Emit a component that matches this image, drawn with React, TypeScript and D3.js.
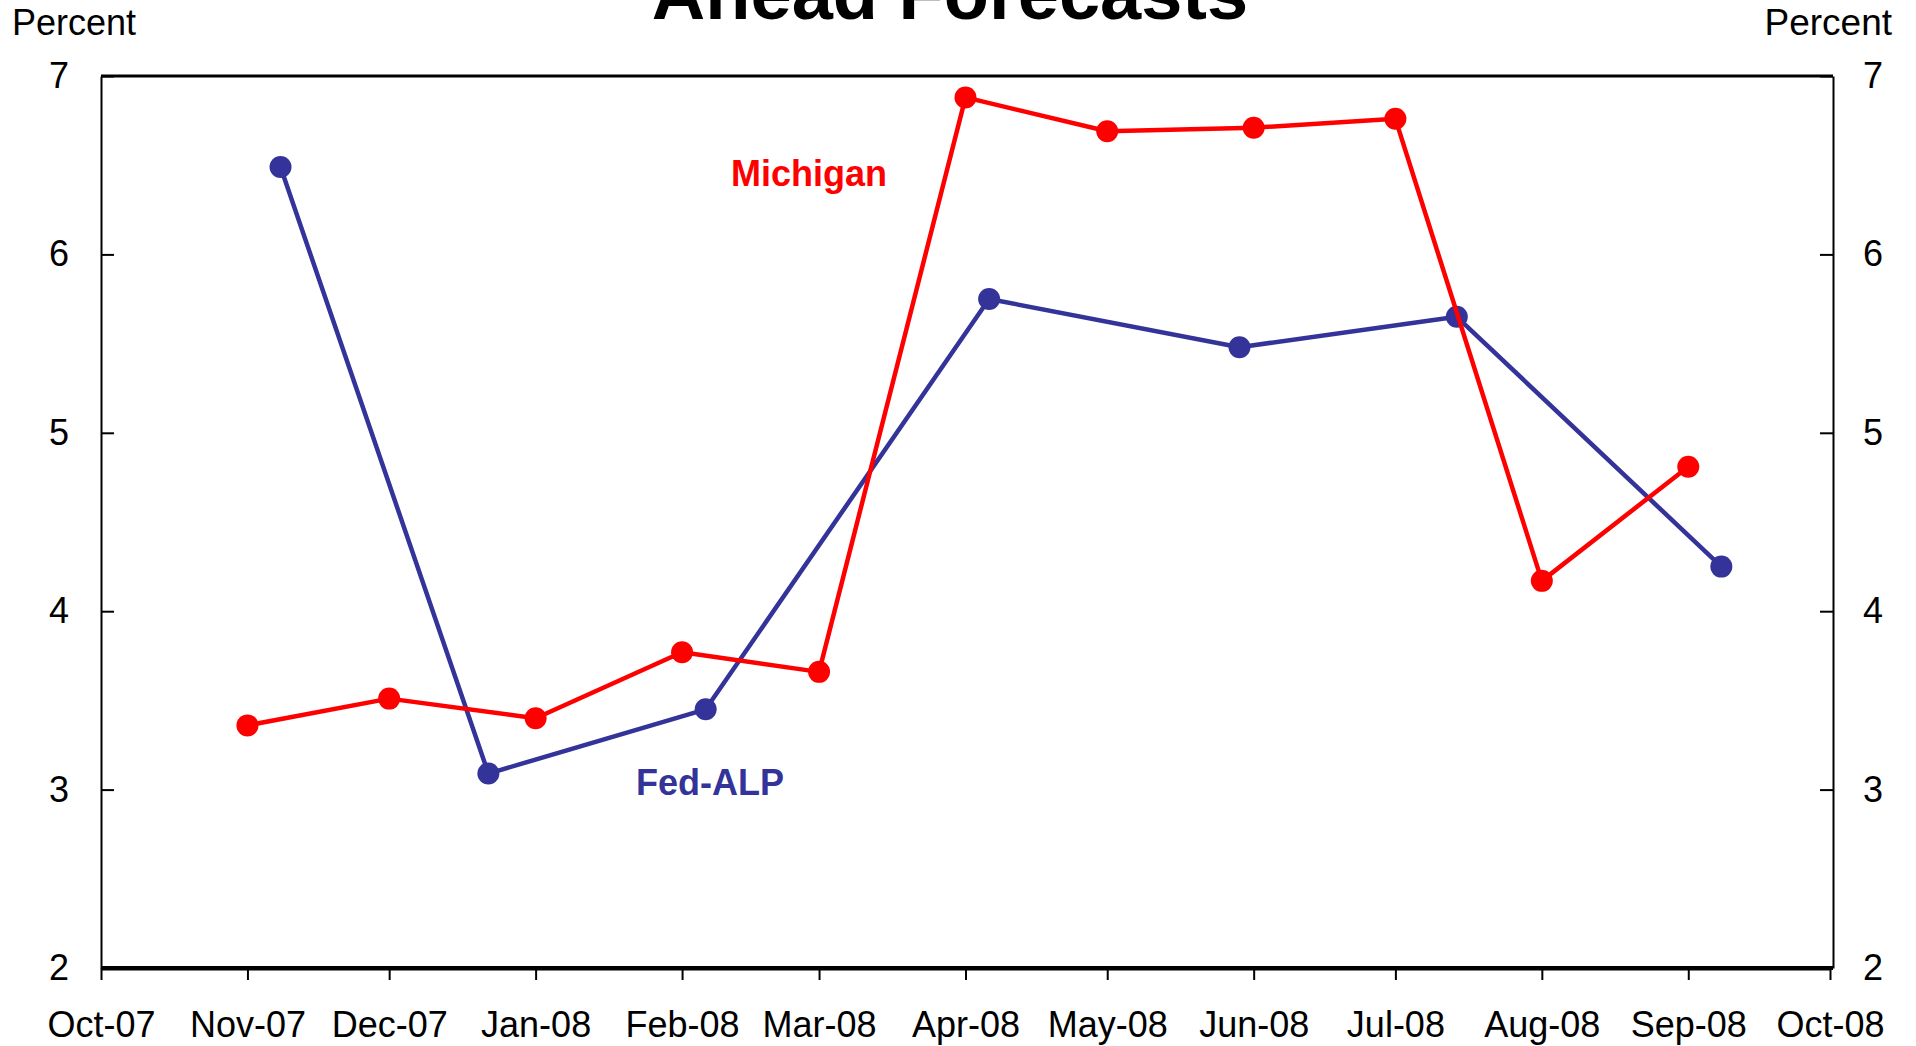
import React, { useEffect, useRef } from 'react';
import * as d3 from 'd3';

// Michigan survey: one reading per month
const michiganDates = [
  new Date(2007, 10, 1), new Date(2007, 11, 1), new Date(2008, 0, 1), new Date(2008, 1, 1),
  new Date(2008, 2, 1), new Date(2008, 3, 1), new Date(2008, 4, 1), new Date(2008, 5, 1),
  new Date(2008, 6, 1), new Date(2008, 7, 1), new Date(2008, 8, 1),
];
const michiganValues = [3.36, 3.51, 3.40, 3.77, 3.66, 6.88, 6.69, 6.71, 6.76, 4.17, 4.81];

// Fed-ALP forecasts: irregular dates
const fedDates = [
  new Date(2007, 10, 8), new Date(2007, 11, 22), new Date(2008, 1, 6), new Date(2008, 3, 6),
  new Date(2008, 4, 29), new Date(2008, 6, 14), new Date(2008, 8, 8),
];
const fedValues = [6.49, 3.09, 3.45, 5.75, 5.48, 5.65, 4.25];

const yTicks = [2, 3, 4, 5, 6, 7];
const xStart = new Date(2007, 9, 1);
const xEnd = new Date(2008, 9, 1);

const RED = '#ff0000';
const BLUE = '#333399';
const FONT = 'Arial, "Liberation Sans", sans-serif';

const App = () => {
  const svgRef = useRef<SVGSVGElement>(null);

  useEffect(() => {
    const width = 1916;
    const height = 1046;
    const svg = d3.select(svgRef.current);
    svg.selectAll('*').remove();
    svg.attr('width', width).attr('height', height);

    const left = 101, right = 1833, top = 76, bottom = 968;

    const x = d3.scaleTime().domain([xStart, xEnd]).range([left, right - 3]);
    const y = d3.scaleLinear().domain([2, 7]).range([bottom, top]);

    // title (upper line is out of frame)
    svg.append('text')
      .attr('x', 950)
      .attr('y', 19)
      .attr('text-anchor', 'middle')
      .style('font-family', FONT)
      .style('font-size', '74px')
      .style('font-weight', 'bold')
      .text('Ahead Forecasts');

    svg.append('text')
      .attr('x', 12).attr('y', 35)
      .style('font-family', FONT).style('font-size', '36px')
      .text('Percent');
    svg.append('text')
      .attr('x', 1892).attr('y', 35)
      .attr('text-anchor', 'end')
      .style('font-family', FONT).style('font-size', '37px')
      .text('Percent');

    // top border
    svg.append('line')
      .attr('x1', left).attr('x2', right)
      .attr('y1', top).attr('y2', top)
      .attr('stroke', '#000').attr('stroke-width', 3);

    const styleAxis = (g: any, domainWidth: number) => {
      g.select('.domain').attr('stroke', '#000').attr('stroke-width', domainWidth);
      g.selectAll('.tick line').attr('stroke', '#000').attr('stroke-width', 2);
      g.selectAll('.tick text')
        .attr('fill', '#000')
        .style('font-family', FONT)
        .style('font-size', '36px');
    };

    svg.append('g')
      .attr('transform', `translate(${left},0)`)
      .call(d3.axisLeft(y).tickValues(yTicks).tickSizeInner(-13).tickSizeOuter(0).tickPadding(32).tickFormat(d3.format('d')))
      .call((g: any) => styleAxis(g, 2));

    svg.append('g')
      .attr('transform', `translate(${right},0)`)
      .call(d3.axisRight(y).tickValues(yTicks).tickSizeInner(-13).tickSizeOuter(0).tickPadding(30).tickFormat(d3.format('d')))
      .call((g: any) => styleAxis(g, 2));

    svg.append('g')
      .attr('transform', `translate(0,${bottom})`)
      .call(d3.axisBottom(x).ticks(d3.timeMonth.every(1)).tickSizeInner(12).tickSizeOuter(0).tickPadding(31).tickFormat(d3.timeFormat('%b-%y') as any))
      .call((g: any) => styleAxis(g, 4));

    // extend bottom axis line to the right frame
    svg.append('line')
      .attr('x1', left).attr('x2', right)
      .attr('y1', bottom).attr('y2', bottom)
      .attr('stroke', '#000').attr('stroke-width', 4);

    const line = d3.line<[Date, number]>()
      .x(d => x(d[0]))
      .y(d => y(d[1]));

    const series = [
      { dates: fedDates, values: fedValues, color: BLUE },
      { dates: michiganDates, values: michiganValues, color: RED },
    ];

    series.forEach(s => {
      const pts: [Date, number][] = s.dates.map((d, i) => [d, s.values[i]]);
      svg.append('path')
        .datum(pts)
        .attr('d', line)
        .attr('fill', 'none')
        .attr('stroke', s.color)
        .attr('stroke-width', 4.5)
        .attr('stroke-linejoin', 'round');
      svg.append('g')
        .selectAll('circle')
        .data(pts)
        .enter().append('circle')
        .attr('cx', d => x(d[0]))
        .attr('cy', d => y(d[1]))
        .attr('r', 11)
        .attr('fill', s.color);
    });

    // series labels
    svg.append('text')
      .attr('x', 731).attr('y', 186)
      .style('font-family', FONT).style('font-size', '36px').style('font-weight', 'bold')
      .attr('fill', RED)
      .text('Michigan');
    svg.append('text')
      .attr('x', 636).attr('y', 795)
      .style('font-family', FONT).style('font-size', '36px').style('font-weight', 'bold')
      .attr('fill', BLUE)
      .text('Fed-ALP');
  }, []);

  return (
    <div style={{ position: 'absolute', left: 0, top: 0, width: 1916, height: 1046, background: '#fff' }}>
      <svg ref={svgRef} style={{ display: 'block' }}></svg>
    </div>
  );
};

export default App;
